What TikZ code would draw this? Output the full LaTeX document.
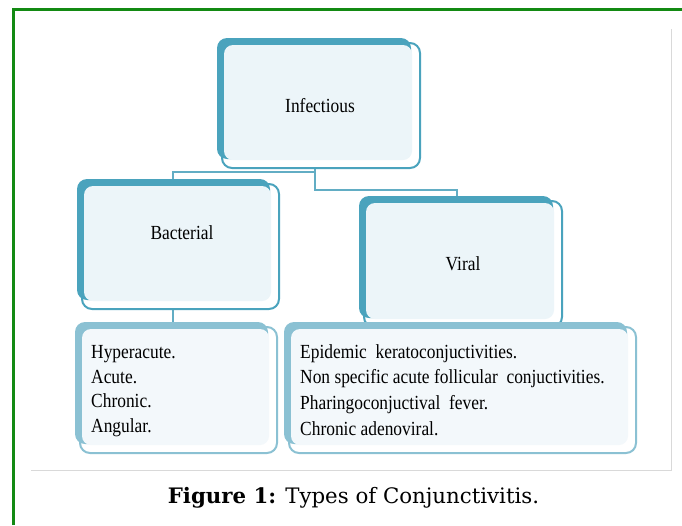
\documentclass[tikz,border=0pt]{standalone}
\usepackage{fontspec}
\setmainfont{Liberation Serif}
\newfontfamily\diagfont[FakeStretch=0.87]{Liberation Serif}
\newfontfamily\capfont{DejaVu Serif}
\usetikzlibrary{calc,backgrounds}
\definecolor{tealA}{HTML}{4AA3BD}
\definecolor{tealB}{HTML}{8BC1D3}
\definecolor{fillA}{HTML}{ECF5F9}
\definecolor{fillB}{HTML}{F3F8FB}
\definecolor{connC}{HTML}{62ADC4}
\definecolor{frameG}{HTML}{138A13}
\definecolor{grayL}{HTML}{D9D9D9}
\newcommand\decobox[3]{%
  \fill[#2, rounded corners=10pt] ($(#1.north west)+(-4,-4)$) rectangle ($(#1.south east)+(-10,-10)$);
  \fill[#3, rounded corners=9pt] ($(#1.north west)+(3,3)$) rectangle ($(#1.south east)+(-9,-9)$);}
\begin{document}
\begin{tikzpicture}[x=1pt,y=-1pt,
  topbox/.style={rounded corners=10pt, draw=tealA, fill=white, line width=2pt, inner sep=0pt},
  listbox/.style={rounded corners=10pt, draw=tealB, fill=white, line width=2pt, inner sep=0pt},
  txt/.style={inner sep=0pt, font=\diagfont\fontsize{20}{24}\selectfont},
  conn/.style={draw=connC, line width=2pt}]
\useasboundingbox (0,0) rectangle (682,525);
% frames
\draw[frameG, line width=3pt] (13,525) -- (13,9.5) -- (682,9.5);
\draw[grayL, line width=1pt] (671,29) -- (671,470) -- (31,470);
% boxes
\node[topbox, minimum width=198pt, minimum height=125pt] (inf) at (321,105.5) {};
\decobox{inf}{tealA}{fillA}
\node[topbox, minimum width=197pt, minimum height=125pt] (bac) at (180.5,246.5) {};
\decobox{bac}{tealA}{fillA}
\node[topbox, minimum width=198pt, minimum height=126pt] (vir) at (463,264) {};
\decobox{vir}{tealA}{fillA}
\node[listbox, minimum width=197pt, minimum height=126pt] (bacl) at (178.5,390) {};
\decobox{bacl}{tealB}{fillB}
\node[listbox, minimum width=347pt, minimum height=126pt] (virl) at (462.5,390) {};
\decobox{virl}{tealB}{fillB}
% connectors
\begin{pgfonlayer}{background}
\draw[conn] ($(inf.south)+(-6,0)$) |- ($(bac.north)+(-7.5,-11)$) -- ($(bac.north)+(-7.5,0)$);
\draw[conn] ($(inf.south)+(-6,0)$) |- ($(vir.north)+(-6,-10)$) -- ($(vir.north)+(-6,0)$);
\draw[conn] ($(bac.south)+(-7.5,0)$) -- ($(bacl.north)+(-5.5,0)$);
\end{pgfonlayer}
% texts
\node[txt, anchor=base] (tinf) at (320,112) {Infectious};
\node[txt, anchor=base] (tbac) at (182,239) {Bacterial};
\node[txt, anchor=base] (tvir) at (463,270) {Viral};
\node[txt, anchor=base west] (b1) at (91,358) {Hyperacute.};
\node[txt, anchor=base west] (b2) at (91,383) {Acute.};
\node[txt, anchor=base west] (b3) at (91,407) {Chronic.};
\node[txt, anchor=base west] (b4) at (91,432) {Angular.};
\node[txt, anchor=base west] (v1) at (300,358) {Epidemic\ \ keratoconjuctivities.};
\node[txt, anchor=base west] (v2) at (300,383) {Non specific acute\ follicular\ \ conjuctivities.};
\node[txt, anchor=base west] (v3) at (300,409) {Pharingoconjuctival\ \ fever.};
\node[txt, anchor=base west] (v4) at (300,435) {Chronic adenoviral.};
% caption
\node[anchor=base, inner sep=0pt, font=\capfont\fontsize{21.3}{25}\selectfont] (cap) at (353.5,503) {\textbf{Figure 1:} Types of Conjunctivitis.};
\end{tikzpicture}
\end{document}
